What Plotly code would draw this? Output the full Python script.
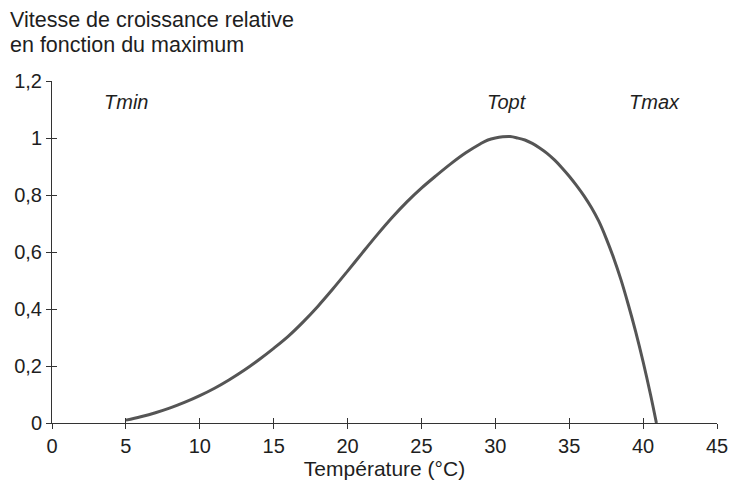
import plotly.graph_objects as go

temperature = [5, 6, 7, 8, 9, 10, 11, 12, 13, 14, 15, 16, 17, 18, 19, 20, 21, 22, 23, 24, 25,
               26, 27, 28, 29, 29.5, 30, 30.5, 31, 31.5, 32, 32.5, 33, 33.5, 34, 34.5, 35,
               35.5, 36, 36.5, 37, 37.5, 38, 38.5, 39, 39.5, 40, 40.5, 40.9]
growth = [0.01, 0.022, 0.036, 0.053, 0.073, 0.096, 0.122, 0.152, 0.185, 0.222, 0.262, 0.305,
          0.355, 0.41, 0.47, 0.533, 0.597, 0.66, 0.72, 0.775, 0.824, 0.868, 0.91, 0.948, 0.98,
          0.993, 1.0, 1.004, 1.005, 1.0, 0.993, 0.981, 0.965, 0.946, 0.923, 0.896, 0.866,
          0.833, 0.797, 0.756, 0.708, 0.648, 0.58, 0.503, 0.415, 0.32, 0.215, 0.10, 0.0]

x_ticks = [0, 5, 10, 15, 20, 25, 30, 35, 40, 45]
y_ticks = [0, 0.2, 0.4, 0.6, 0.8, 1.0, 1.2]
y_tick_labels = ["0", "0,2", "0,4", "0,6", "0,8", "1", "1,2"]

marker_labels = ["Tmin", "Topt", "Tmax"]
marker_x = [5, 30.8, 40.8]
marker_y = 1.125

title_lines = ["Vitesse de croissance relative", "en fonction du maximum"]

FONT = "Liberation Sans, Arial, Helvetica, sans-serif"
INK = "#333333"
TXT = "#1e1e1e"
FS = 20

fig = go.Figure()
fig.add_trace(go.Scatter(x=temperature, y=growth, mode="lines",
                         line=dict(color="#555555", width=3, shape="spline", smoothing=1.0),
                         hoverinfo="skip", showlegend=False))
fig.add_trace(go.Scatter(x=[0], y=[0], xaxis="x2", yaxis="y2", mode="markers",
                         marker=dict(opacity=0), showlegend=False, hoverinfo="skip"))

for lab, xv in zip(marker_labels, marker_x):
    fig.add_annotation(x=xv, y=marker_y, text=f"<i>{lab}</i>", showarrow=False,
                       font=dict(family=FONT, size=FS, color=TXT))

for i, line in enumerate(title_lines):
    fig.add_annotation(x=0, y=1, xref="paper", yref="paper", xanchor="left", yanchor="middle",
                       xshift=-44, yshift=61 - 25 * i, text=line, showarrow=False,
                       font=dict(family=FONT, size=21.5, color=TXT))

# page body has an 8px margin: size the figure so it fits the 736x492 window
fig.update_layout(
    width=728, height=476,
    margin=dict(l=44, r=19, t=73, b=61, autoexpand=False),
    paper_bgcolor="white", plot_bgcolor="white",
    font=dict(family=FONT, size=FS, color=TXT),
    xaxis=dict(range=[0, 45], tickvals=x_ticks, ticks="outside", ticklen=5, tickwidth=1,
               tickcolor=INK, showline=True, linecolor=INK, linewidth=1, showgrid=False,
               zeroline=False, fixedrange=True, automargin=False, ticklabeloverflow="allow",
               title=dict(text="Température (°C)", standoff=4,
                          font=dict(family=FONT, size=21, color=TXT)),
               tickfont=dict(family=FONT, size=FS, color=TXT)),
    yaxis=dict(range=[0, 1.2], tickvals=y_ticks, ticktext=y_tick_labels, ticks="outside",
               ticklen=5, tickwidth=1, tickcolor=INK, showline=True, linecolor=INK,
               linewidth=1, showgrid=False, zeroline=False, fixedrange=True, automargin=False,
               tickfont=dict(family=FONT, size=FS, color=TXT)),
    xaxis2=dict(range=[0, 45], tickvals=x_ticks, ticks="inside", ticklen=5, tickwidth=1,
                tickcolor=INK, showticklabels=False, overlaying="x", anchor="y2",
                showgrid=False, zeroline=False, showline=False, automargin=False),
    yaxis2=dict(range=[0, 1.2], tickvals=y_ticks, ticks="inside", ticklen=5, tickwidth=1,
                tickcolor=INK, showticklabels=False, overlaying="y", anchor="x2",
                showgrid=False, zeroline=False, showline=False, automargin=False),
)

fig.write_html("out.html", default_width="728px", default_height="476px")
